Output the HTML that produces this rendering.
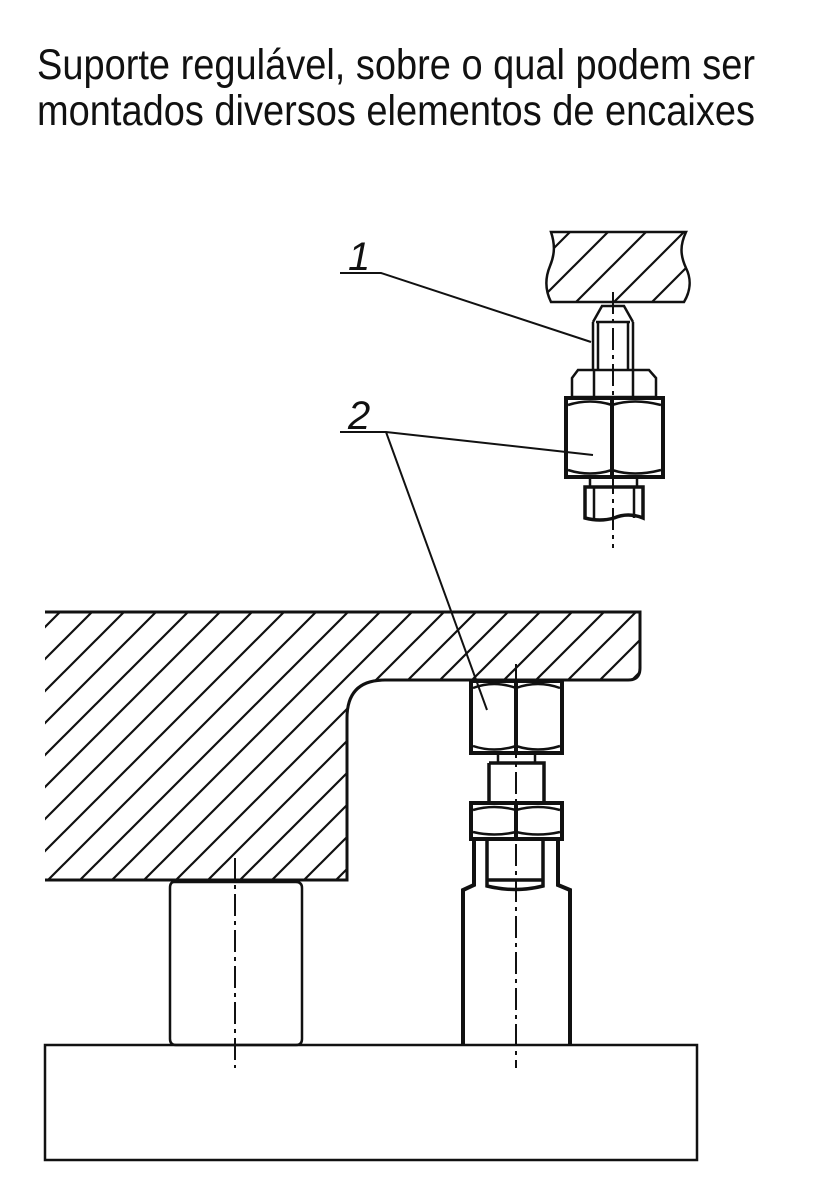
<!DOCTYPE html>
<html><head><style>body{margin:0;background:#fff}svg{display:block}</style></head><body>
<svg width="825" height="1200" viewBox="0 0 825 1200" xmlns="http://www.w3.org/2000/svg">
<defs>
<pattern id="h" patternUnits="userSpaceOnUse" width="32" height="32">
<path d="M-8,8 L8,-8 M0,32 L32,0 M24,40 L40,24" stroke="#111" stroke-width="2.2"/>
</pattern>
<pattern id="h2" patternUnits="userSpaceOnUse" width="38" height="38" x="4">
<path d="M-9,9 L9,-9 M0,38 L38,0 M29,47 L47,29" stroke="#111" stroke-width="2.2"/>
</pattern>
</defs>
<g font-family="'Liberation Sans Narrow','Liberation Sans', sans-serif" font-size="43" fill="#111">
<text x="37" y="79" textLength="718" lengthAdjust="spacingAndGlyphs">Suporte regulável, sobre o qual podem ser</text>
<text x="37" y="125" textLength="718" lengthAdjust="spacingAndGlyphs">montados diversos elementos de encaixes</text>
</g>
<g fill="none" stroke="#111" stroke-width="2.5">
<path d="M551,232 L686,232 C680,245 680,255 686,268 C692,280 690,292 684,302 L551,302 C545,290 545,278 550,266 C555,254 555,244 551,232 Z" fill="url(#h2)"/>
<path d="M593,322 L602,306 L624,306 L633,322 M593,322 L593,370 M633,322 L633,370 M596,322 L630,322 M598,322 L598,370 M628,322 L628,370"/>
<path d="M578,370 L649,370 L656,378 L656,397 L572,397 L572,378 Z M594,370 L594,397 M633,370 L633,397"/>
<rect x="566" y="398" width="97" height="79" stroke-width="4"/>
<path d="M612,398 L612,477" stroke-width="4"/>
<path d="M568,405 Q590,398 612,405 Q634,398 661,405 M568,470 Q590,477 612,470 Q634,477 661,470"/>
<path d="M590,478 L590,487 M637,478 L637,487"/>
<path d="M585,487 L643,487 L643,518 Q628,512 614,518 Q600,522 585,518 Z" stroke-width="3.5"/>
<path d="M594,487 L594,518 M634,487 L634,518"/>
<path d="M613,292 L613,548" stroke-width="2" stroke-dasharray="22,5,4,5"/>
<path d="M340,273 L381,273 L591,342" stroke-width="2"/>
<path d="M340,432 L386,432 L593,455 M386,432 L487,710" stroke-width="2"/>
<path d="M45,612 L640,612 L640,668 Q640,680 628,680 L385,680 Q347,680 347,718 L347,880 L45,880 Z" fill="url(#h)" stroke="none"/>
<path d="M45,612 L640,612 L640,668 Q640,680 628,680 L385,680 Q347,680 347,718 L347,880 L45,880" stroke-width="3"/>
<rect x="471" y="681" width="91" height="72" stroke-width="4"/>
<path d="M516,681 L516,753" stroke-width="4"/>
<path d="M473,688 Q494,680 516,688 Q538,680 560,688 M473,746 Q494,753 516,746 Q538,753 560,746"/>
<path d="M498,754 L498,763 M535,754 L535,763"/>
<path d="M489,763 L544,763 L544,803 M489,763 L489,803" stroke-width="3.5"/>
<rect x="471" y="803" width="91" height="36" stroke-width="4"/>
<path d="M516,803 L516,839" stroke-width="4"/>
<path d="M473,810 Q494,804 516,810 Q538,804 560,810 M473,832 Q494,837 516,832 Q538,837 560,832"/>
<path d="M487,840 L487,886 Q515,893 543,886 L543,840 M488,880 L542,880" stroke-width="3.5"/>
<path d="M474,840 L474,885 L463,890 L463,1045 M558,840 L558,885 L570,890 L570,1045" stroke-width="4"/>
<path d="M516,664 L516,1068" stroke-width="2" stroke-dasharray="22,5,4,5"/>
<path d="M174,882 L296,882 Q302,882 302,888 L302,1039 Q302,1045 296,1045 L176,1045 Q170,1045 170,1039 L170,888 Q170,882 174,882 Z"/>
<path d="M235,858 L235,1068" stroke-width="2" stroke-dasharray="22,5,4,5"/>
<rect x="45" y="1045" width="652" height="115"/>
</g>
<g font-family="'Liberation Sans', sans-serif" font-size="40" font-style="italic" fill="#111">
<text x="348" y="270">1</text>
<text x="348" y="429">2</text>
</g>
</svg>
</body></html>
